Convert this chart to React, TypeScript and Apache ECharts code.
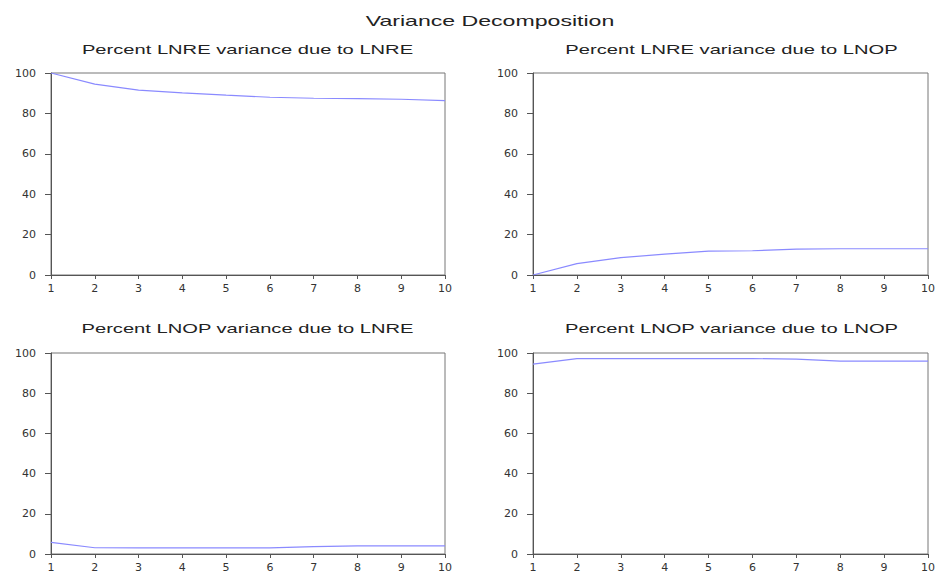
import React, { useEffect, useRef } from 'react';
import * as echarts from 'echarts';

const periods = ['1', '2', '3', '4', '5', '6', '7', '8', '9', '10'];
const lnreDueLnre = [100, 94.5, 91.5, 90.2, 89, 88, 87.5, 87.3, 87, 86.3];
const lnreDueLnop = [0, 5.6, 8.6, 10.3, 11.8, 12, 12.8, 13, 13, 13];
const lnopDueLnre = [5.8, 3.1, 3, 3, 3, 3, 3.7, 4, 4, 4];
const lnopDueLnop = [94.5, 97.2, 97.2, 97.2, 97.2, 97.2, 97, 96, 96, 96];
const panelTitles = [
  'Percent LNRE variance due to LNRE',
  'Percent LNRE variance due to LNOP',
  'Percent LNOP variance due to LNRE',
  'Percent LNOP variance due to LNOP',
];
const mainTitle = 'Variance Decomposition';

export default function App() {
  const ref = useRef<HTMLDivElement>(null);
  useEffect(() => {
    const chart = echarts.init(ref.current!, undefined, { renderer: 'svg' });
    const seriesData = [lnreDueLnre, lnreDueLnop, lnopDueLnre, lnopDueLnop];
    const grids = [
      { left: 51, top: 73, width: 394, height: 202 },
      { left: 533, top: 73, width: 395, height: 202 },
      { left: 51, top: 353, width: 394, height: 201 },
      { left: 533, top: 353, width: 395, height: 201 },
    ];
    const titlePos = [
      [247.5, 50],
      [731.5, 50],
      [247.5, 328.5],
      [731.5, 328.5],
    ];
    const font = '"Liberation Sans", Arial, sans-serif';
    const labelFont = { fontFamily: '"DejaVu Sans", sans-serif', fontSize: 11, color: '#333' };
    const option: any = {
      animation: false,
      backgroundColor: '#fff',
      grid: grids.map((g) => ({
        ...g,
        show: true,
        borderColor: '#777',
        borderWidth: 1,
        backgroundColor: 'transparent',
      })),
      xAxis: grids.map((_, i) => ({
        type: 'category',
        gridIndex: i,
        data: periods,
        boundaryGap: false,
        axisLine: { show: true, lineStyle: { color: '#555', width: 1 } },
        axisTick: { show: true, inside: false, length: 4, lineStyle: { color: '#555' } },
        axisLabel: { ...labelFont, margin: 8, interval: 0 },
        splitLine: { show: false },
      })),
      yAxis: grids.map((_, i) => ({
        type: 'value',
        gridIndex: i,
        min: 0,
        max: 100,
        interval: 20,
        axisLine: { show: true, lineStyle: { color: '#555', width: 1 } },
        axisTick: { show: true, inside: false, length: 6, lineStyle: { color: '#555' } },
        axisLabel: { ...labelFont, margin: 15 },
        splitLine: { show: false },
      })),
      series: seriesData.map((d, i) => ({
        type: 'line',
        xAxisIndex: i,
        yAxisIndex: i,
        data: d,
        showSymbol: false,
        symbol: 'none',
        lineStyle: { color: '#8a8aff', width: 1.2 },
      })),
      graphic: [
        {
          type: 'text',
          x: 490,
          y: 20.5,
          scaleX: 1.54,
          style: {
            text: mainTitle,
            font: `15px ${font}`,
            fill: '#222',
            textAlign: 'center',
            align: 'center',
            textVerticalAlign: 'middle',
            verticalAlign: 'middle',
          },
        },
        ...panelTitles.map((t, i) => ({
          type: 'text',
          x: titlePos[i][0],
          y: titlePos[i][1],
          scaleX: 1.55,
          style: {
            text: t,
            font: `13px ${font}`,
            fill: '#222',
            textAlign: 'center',
            align: 'center',
            textVerticalAlign: 'middle',
            verticalAlign: 'middle',
          },
        })),
      ],
    };
    chart.setOption(option);
    return () => chart.dispose();
  }, []);
  return (
    <div
      ref={ref}
      style={{ position: 'fixed', left: 0, top: 0, width: 938, height: 575, background: '#fff' }}
    />
  );
}
